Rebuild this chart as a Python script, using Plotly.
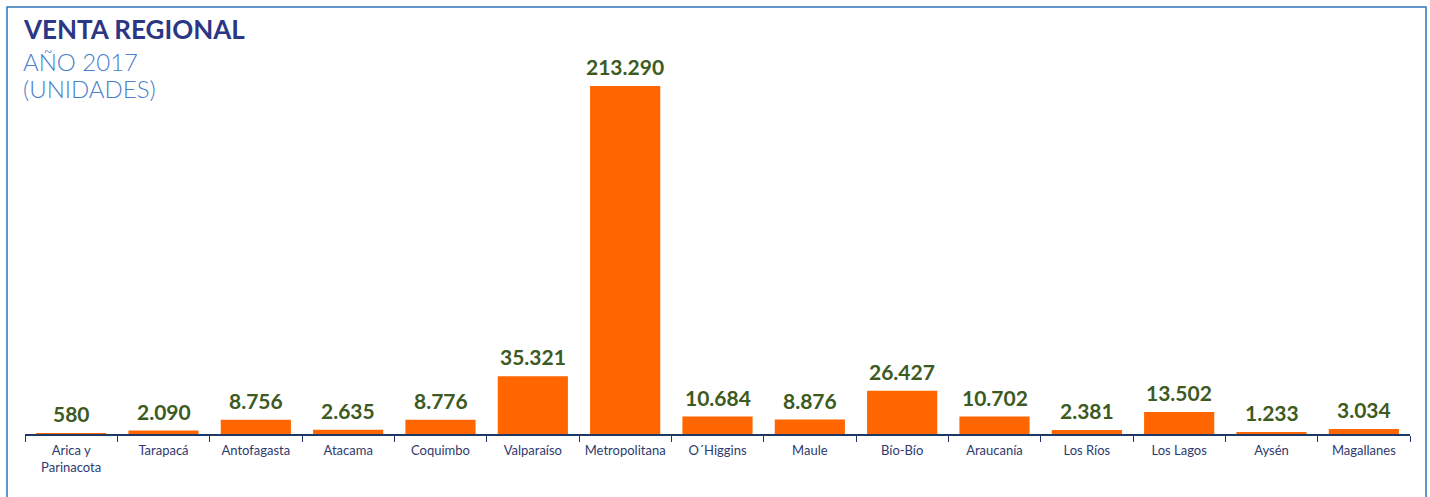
import plotly.graph_objects as go

regions = ["Arica y<br>Parinacota", "Tarapacá", "Antofagasta", "Atacama", "Coquimbo",
           "Valparaíso", "Metropolitana", "O´Higgins", "Maule", "Bío-Bío",
           "Araucanía", "Los Ríos", "Los Lagos", "Aysén", "Magallanes"]
ventas = [580, 2090, 8756, 2635, 8776, 35321, 213290, 10684, 8876, 26427,
          10702, 2381, 13502, 1233, 3034]

labels = [f"{v:,}".replace(",", ".") for v in ventas]

W, H = 1430, 497
ml, mr, mt, mb = 25, 20, 26, 63
pw, ph = W - ml - mr, H - mt - mb

def px(x):
    return (x - ml) / pw

def py(y):
    return (H - mb - y) / ph

fig = go.Figure(go.Bar(
    x=regions, y=ventas,
    marker=dict(color="#ff6600", line=dict(width=0)),
    hoverinfo="x+y",
))

value_annotations = [
    dict(x=r, y=v, text=f"<b>{t}</b>", xref="x", yref="y", showarrow=False,
         xanchor="center", yanchor="bottom", yshift=5,
         font=dict(family="Lato, Arial", size=21, color="#3d5a22"))
    for r, v, t in zip(regions, ventas, labels)
]

fig.update_layout(
    width=W, height=H,
    margin=dict(l=ml, r=mr, t=mt, b=mb),
    paper_bgcolor="white", plot_bgcolor="white",
    bargap=0.24,
    showlegend=False,
    xaxis=dict(
        type="category", showline=True, linecolor="#1f3864", linewidth=1.5,
        ticks="outside", tickson="boundaries", ticklen=6, tickcolor="#1f3864",
        tickfont=dict(family="Lato, Arial", size=13, color="#2e3a6e"),
        ticklabelstandoff=4,
        showgrid=False,
    ),
    yaxis=dict(range=[0, 250000], visible=False, showgrid=False),
    shapes=[dict(type="rect", xref="paper", yref="paper",
                 x0=px(7), x1=px(1426), y0=py(520), y1=py(7),
                 line=dict(color="#2e75b6", width=1.5), layer="below")],
    annotations=[
        dict(text="<b>VENTA REGIONAL</b>", xref="paper", yref="paper",
             x=px(21), y=py(29), xanchor="left", yanchor="middle", showarrow=False,
             font=dict(family="Lato, Arial", size=26, color="#2b3784")),
        dict(text="AÑO 2017", xref="paper", yref="paper",
             x=px(21), y=py(61), xanchor="left", yanchor="middle", showarrow=False,
             font=dict(family="Lato, Arial", size=24, color="#4a80cc", weight=300)),
        dict(text="(UNIDADES)", xref="paper", yref="paper",
             x=px(21), y=py(88), xanchor="left", yanchor="middle", showarrow=False,
             font=dict(family="Lato, Arial", size=24, color="#4a80cc", weight=300)),
    ] + value_annotations,
)

fig.write_html("out.html", config={"displayModeBar": False},
               post_script="document.body.style.margin='0';")
